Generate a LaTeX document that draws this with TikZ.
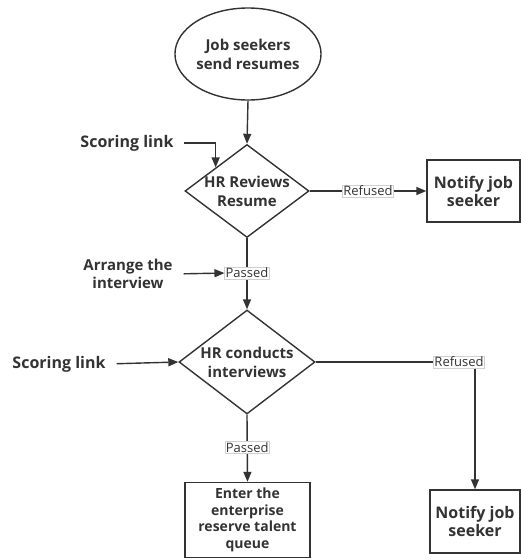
\documentclass[tikz,border=0pt]{standalone}
\usepackage{fontspec}
\setmainfont{Open Sans}
\usetikzlibrary{shapes.geometric,arrows.meta}
\definecolor{ink}{HTML}{333333}
\definecolor{lblline}{HTML}{D0D0D0}
\begin{document}
\begin{tikzpicture}[x=1pt,y=-1pt,
  every node/.style={text=ink},
  shp/.style={draw=ink,line width=1.4pt,font=\bfseries\fontsize{15}{19}\selectfont,align=center,inner sep=0pt},
  boxnode/.style={shp,rectangle},
  dia/.style={shp,diamond,aspect=1.33,inner xsep=-25pt,inner ysep=-5pt},
  side/.style={font=\bfseries\fontsize{16}{18}\selectfont,align=center,inner sep=1pt},
  lbl/.style={fill=white,draw=lblline,line width=0.4pt,inner sep=1pt,font=\fontsize{13}{15}\selectfont},
  arr/.style={draw=ink,line width=1.4pt,-{Triangle[length=10pt,width=8pt]}},
  ln/.style={draw=ink,line width=1.4pt}]
\useasboundingbox (0,0) rectangle (521,560);
\node[shp,ellipse,minimum width=142pt,minimum height=92pt] (start) at (248,54) {Job seekers\\send resumes};
\node[dia,minimum width=124pt,minimum height=93pt] (d1) at (247,191) {HR Reviews\\Resume};
\node[boxnode,minimum width=93pt,minimum height=62pt,font=\bfseries\fontsize{16}{18}\selectfont] (n1) at (473.5,191) {Notify job\\seeker};
\node[dia,minimum width=136pt,minimum height=104pt] (d2) at (247,362) {HR conducts\\interviews};
\node[boxnode,minimum width=90pt,minimum height=63pt,font=\bfseries\fontsize{16}{18}\selectfont] (n2) at (475,521.5) {Notify job\\seeker};
\node[boxnode,minimum width=125pt,minimum height=75pt,font=\bfseries\fontsize{14}{16.7}\selectfont] (q) at (247.5,520) {Enter the\\enterprise\\reserve talent\\queue};
\node[side] (s1) at (127,143) {Scoring link};
\node[side] (s2) at (59,364) {Scoring link};
\node[side,font=\bfseries\fontsize{15}{17.5}\selectfont] (ar) at (128,274) {Arrange the\\interview};

\draw[arr] (start.south) -- (d1.north);
\draw[arr,shorten <=9pt] (s1.east) -| (d1.north west);
\draw[arr] (d1.east) -- node[lbl,pos=0.5] (r1) {Refused} (n1.west);
\draw[arr] (d1.south) -- node[lbl,pos=0.49] (p1) {Passed} (d2.north);
\draw[arr,shorten <=10pt] (ar.east) -- (p1.west);
\draw[arr,shorten <=10pt] (s2.east) -- (d2.west);
\draw[arr] (d2.east) -| node[lbl,pos=0.45] (r2) {Refused} (n2.north);
\draw[arr] (d2.south) -- node[lbl,pos=0.49] (p2) {Passed} (q.north);
\end{tikzpicture}
\end{document}
